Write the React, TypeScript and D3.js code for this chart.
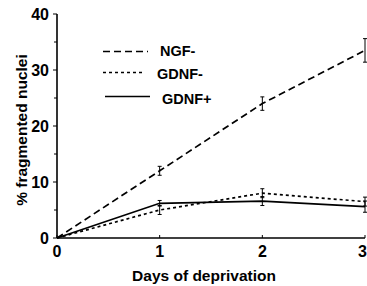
import React from 'react'
import { scaleLinear, line } from 'd3'

const days = [0, 1, 2, 3]
const yTicks = [0, 10, 20, 30, 40]
const yMinorTicks = [5, 15, 25, 35]
const ngfMinus = [0, 12, 24, 33.5]
const ngfMinusErr = [0, 0.8, 1.2, 2.1]
const gdnfMinus = [0, 5, 8, 6.5]
const gdnfMinusErr = [0, 0.8, 0.8, 0.8]
const gdnfPlus = [0, 6.2, 6.6, 5.6]
const gdnfPlusErr = [0, 0.5, 0.8, 1]

const series = [
  { name: 'NGF-', values: ngfMinus, err: ngfMinusErr, dash: '7,4' },
  { name: 'GDNF-', values: gdnfMinus, err: gdnfMinusErr, dash: '3,3' },
  { name: 'GDNF+', values: gdnfPlus, err: gdnfPlusErr, dash: null },
]

const font = 'Liberation Sans, Arial, sans-serif'

export default function App() {
  const width = 367
  const height = 286
  const x = scaleLinear().domain([0, 3]).range([57, 365])
  const y = scaleLinear().domain([0, 40]).range([238, 14])
  // legend rows: line y, line start/end, text x, text y
  const legendLineY = [51.5, 72.5, 96.5]
  const legendLineX = [[103, 148], [103, 143], [105, 150]]
  const legendTextX = [160, 157, 162]
  const legendTextY = [51, 74, 99]

  return (
    <svg width={width} height={height} style={{ position: 'absolute', left: 0, top: 0, background: '#fff' }}>
      {/* axes */}
      <line x1={x(0)} x2={x(0)} y1={y(0)} y2={y(40)} stroke="#000" strokeWidth={1.6} />
      <line x1={x(0)} x2={x(3)} y1={y(0)} y2={y(0)} stroke="#000" strokeWidth={1.6} />
      {yTicks.map((t) => (
        <g key={t}>
          <line x1={x(0) - 4} x2={x(0)} y1={y(t)} y2={y(t)} stroke="#000" strokeWidth={1} />
          <text x={49} y={y(t)} dy="0.36em" textAnchor="end" fontFamily={font} fontWeight="bold" fontSize={16}>
            {t}
          </text>
        </g>
      ))}
      {yMinorTicks.map((t) => (
        <line key={t} x1={x(0) - 3} x2={x(0)} y1={y(t)} y2={y(t)} stroke="#000" strokeWidth={1} />
      ))}
      {days.map((d) => (
        <g key={d}>
          <line x1={x(d)} x2={x(d)} y1={y(0)} y2={y(0) - 3} stroke="#000" strokeWidth={1} />
          <text
            x={d === 3 ? 367 : x(d)}
            y={257}
            textAnchor={d === 3 ? 'end' : 'middle'}
            fontFamily={font}
            fontWeight="bold"
            fontSize={16}
          >
            {d}
          </text>
        </g>
      ))}
      <text x={204} y={281} textAnchor="middle" fontFamily={font} fontWeight="bold" fontSize={15.5}>
        Days of deprivation
      </text>
      <text transform={`translate(27,130) rotate(-90)`} textAnchor="middle" fontFamily={font} fontWeight="bold" fontSize={15.5}>
        % fragmented nuclei
      </text>

      {/* series */}
      {series.map((s) => {
        const path = line<number>()
          .x((_, i) => x(days[i]))
          .y((v) => y(v))(s.values)
        return (
          <g key={s.name}>
            <path d={path || ''} fill="none" stroke="#000" strokeWidth={1.7} strokeDasharray={s.dash || undefined} />
            {s.values.map((v, i) =>
              s.err[i] > 0 ? (
                <g key={i} stroke="#000" strokeWidth={1}>
                  <line x1={x(days[i])} x2={x(days[i])} y1={y(v - s.err[i])} y2={y(v + s.err[i])} />
                  <line x1={x(days[i]) - 2} x2={x(days[i]) + 2} y1={y(v - s.err[i])} y2={y(v - s.err[i])} />
                  <line x1={x(days[i]) - 2} x2={x(days[i]) + 2} y1={y(v + s.err[i])} y2={y(v + s.err[i])} />
                </g>
              ) : null
            )}
          </g>
        )
      })}

      {/* legend */}
      {series.map((s, i) => (
        <g key={s.name}>
          <line
            x1={legendLineX[i][0]}
            x2={legendLineX[i][1]}
            y1={legendLineY[i]}
            y2={legendLineY[i]}
            stroke="#000"
            strokeWidth={1.7}
            strokeDasharray={s.dash || undefined}
          />
          <text x={legendTextX[i]} y={legendTextY[i]} dy="0.36em" fontFamily={font} fontWeight="bold" fontSize={14.5}>
            {s.name}
          </text>
        </g>
      ))}
    </svg>
  )
}
